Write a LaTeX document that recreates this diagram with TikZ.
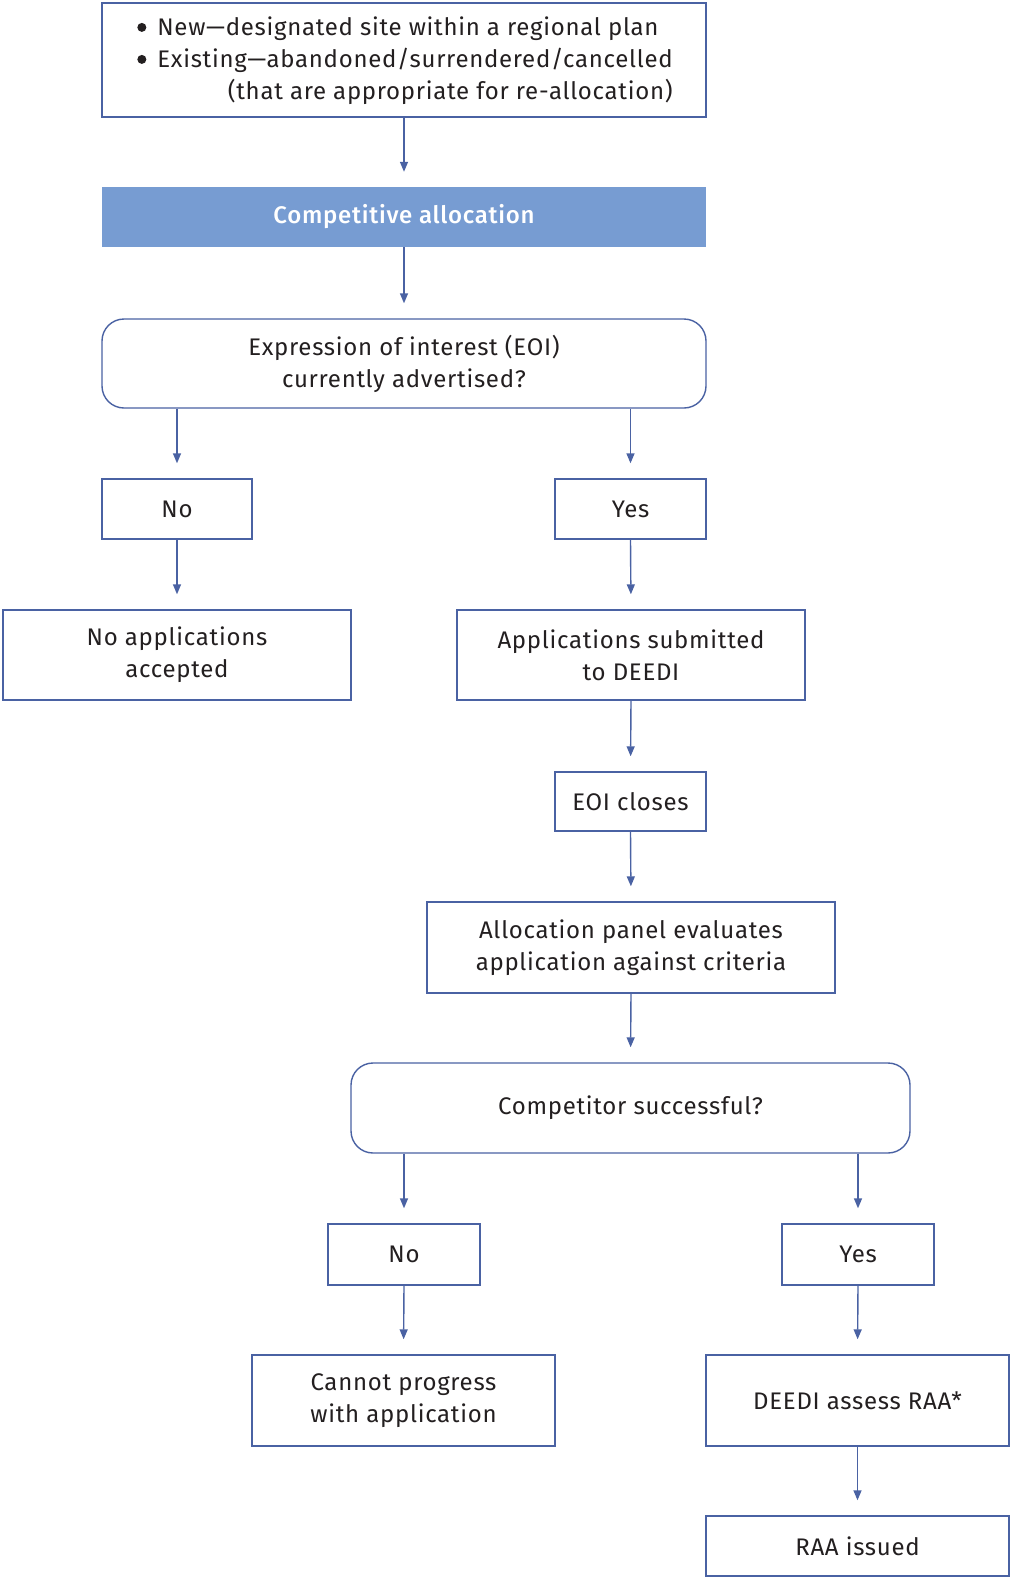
\documentclass[tikz,border=0pt]{standalone}
\usepackage{fontspec}
\setmainfont{Fira Sans}[BoldFont=Fira Sans Medium, LetterSpace=3]
\usetikzlibrary{arrows.meta,calc}
\definecolor{lineblue}{HTML}{4A62A3}
\definecolor{headblue}{HTML}{779CD2}
\definecolor{txt}{HTML}{231F20}
\newcommand{\bigbul}{\raisebox{3.5pt}{\tikz\fill[txt] (0,0) circle (4.5pt);}}
\begin{document}
\begin{tikzpicture}[x=1pt,y=-1pt,
  every node/.style={font=\fontsize{24}{32}\selectfont, text=txt, inner sep=0pt},
  box/.style={draw=lineblue, line width=1.4pt, fill=white, align=center},
  rbox/.style={box, rounded corners=22pt},
  head/.style={fill=headblue, text=white, font=\fontsize{24}{32}\selectfont\bfseries},
  arr/.style={draw=lineblue, line width=1.4pt, -{Triangle[length=10pt,width=8pt]}, shorten >=15pt}
]
\useasboundingbox (0,0) rectangle (1010,1577);
\newcommand{\bx}[6]{\node[#1, minimum width={#4-#3}, minimum height={#6-#5}] (#2) at ({(#3+#4)/2},{(#5+#6)/2})}
\bx{box}{top}{102}{706}{3}{117}{};
\node[anchor=center] (toptext) at (405,61) {\begin{tabular}{@{}l@{\hspace{11pt}}l@{}}\bigbul & New—designated site within a regional plan\\ \bigbul & Existing—abandoned/surrendered/cancelled\\ \multicolumn{2}{@{}r@{}}{(that are appropriate for re-allocation)}\end{tabular}};
\bx{head}{comp}{102}{706}{187}{247}{Competitive allocation};
\bx{rbox}{eoi}{102}{706}{319}{408}{Expression of interest (EOI)\\currently advertised?};
\bx{box}{no1}{102}{252}{479}{539}{No};
\bx{box}{yes1}{555}{706}{479}{539}{Yes};
\bx{box}{noapp}{3}{351}{610}{700}{No applications\\accepted};
\bx{box}{sub}{457}{805}{610}{700}{Applications submitted\\to DEEDI};
\bx{box}{close}{555}{706}{772}{831}{EOI closes};
\bx{box}{panel}{427}{835}{902}{993}{Allocation panel evaluates\\application against criteria};
\bx{rbox}{succ}{351}{910}{1063}{1153}{Competitor successful?};
\bx{box}{no2}{328}{480}{1224}{1285}{No};
\bx{box}{yes2}{782}{934}{1224}{1285}{Yes};
\bx{box}{cannot}{252}{555}{1355}{1446}{Cannot progress\\with application};
\bx{box}{assess}{706}{1009}{1355}{1446}{DEEDI assess RAA*};
\bx{box}{issued}{706}{1009}{1516}{1576}{RAA issued};
\draw[arr] (top.south) -- (comp.north);
\draw[arr] (comp.south) -- (eoi.north);
\draw[arr] (no1.north |- eoi.south) -- (no1.north);
\draw[arr] (yes1.north |- eoi.south) -- (yes1.north);
\draw[arr] (no1.south) -- (noapp.north);
\draw[arr] (yes1.south) -- (sub.north);
\draw[arr] (sub.south) -- (close.north);
\draw[arr] (close.south) -- (panel.north);
\draw[arr] (panel.south) -- (succ.north);
\draw[arr] (no2.north |- succ.south) -- (no2.north);
\draw[arr] (yes2.north |- succ.south) -- (yes2.north);
\draw[arr] (no2.south) -- (cannot.north);
\draw[arr] (yes2.south) -- (assess.north);
\draw[arr] (assess.south) -- (issued.north);
\end{tikzpicture}
\end{document}
